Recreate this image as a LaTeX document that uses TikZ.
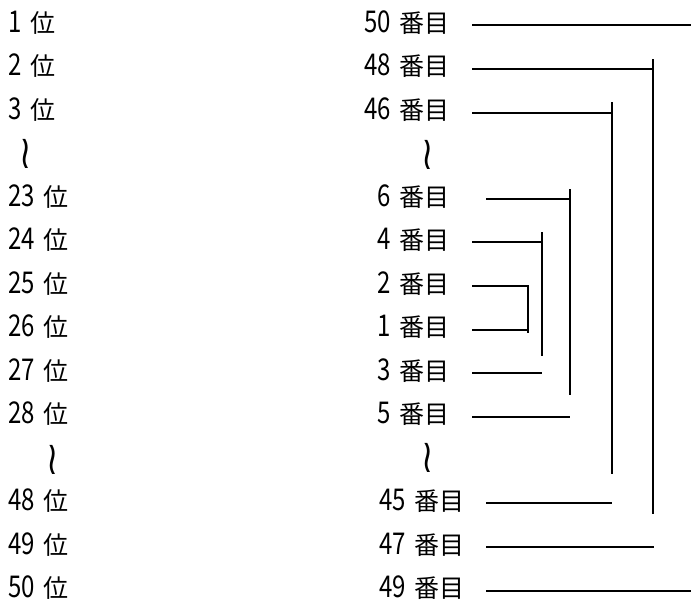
\documentclass[tikz,border=0pt]{standalone}
\usepackage{fontspec}
\setmainfont{Noto Sans CJK JP}
\newfontfamily\digfont[FakeStretch=0.8]{Noto Sans CJK JP}
\newfontfamily\wavefont{DejaVu Sans}
\newcommand\dg[1]{{\digfont\fontsize{30}{30}\selectfont #1}\hspace{9pt}}
\begin{document}
\begin{tikzpicture}[x=1pt,y=-1pt,
  lab/.style={inner sep=0pt,font=\fontsize{25}{25}\selectfont},
  leftlab/.style={lab,anchor=west},
  rightlab/.style={lab,anchor=east},
  wave/.style={inner sep=0pt,font=\wavefont\fontsize{30}{30}\selectfont},
  conn/.style={line width=2pt,line cap=butt}]
\useasboundingbox (0,0) rectangle (691,603);
% left column
\node[leftlab] (l1)  at (8,22.5)  {\dg{1}位};
\node[leftlab] (l2)  at (8,66)    {\dg{2}位};
\node[leftlab] (l3)  at (8,109.5) {\dg{3}位};
\node[wave]    (l4)  at (26,154)  {\scalebox{1.1}[1.55]{≀}};
\node[leftlab] (l5)  at (8,196.5) {\dg{23}位};
\node[leftlab] (l6)  at (8,240)   {\dg{24}位};
\node[leftlab] (l7)  at (8,283.5) {\dg{25}位};
\node[leftlab] (l8)  at (8,327)   {\dg{26}位};
\node[leftlab] (l9)  at (8,370.5) {\dg{27}位};
\node[leftlab] (l10) at (8,414)   {\dg{28}位};
\node[wave]    (l11) at (53,460)  {\scalebox{1.1}[1.55]{≀}};
\node[leftlab] (l12) at (8,501)   {\dg{48}位};
\node[leftlab] (l13) at (8,544.5) {\dg{49}位};
\node[leftlab] (l14) at (8,588)   {\dg{50}位};
% right column
\node[rightlab] (r1)  at (450,22.5)  {\dg{50}番目};
\node[rightlab] (r2)  at (450,66)    {\dg{48}番目};
\node[rightlab] (r3)  at (450,109.5) {\dg{46}番目};
\node[wave]     (r4)  at (428,155)   {\scalebox{1.1}[1.55]{≀}};
\node[rightlab] (r5)  at (450,196.5) {\dg{6}番目};
\node[rightlab] (r6)  at (450,240)   {\dg{4}番目};
\node[rightlab] (r7)  at (450,283.5) {\dg{2}番目};
\node[rightlab] (r8)  at (450,327)   {\dg{1}番目};
\node[rightlab] (r9)  at (450,370.5) {\dg{3}番目};
\node[rightlab] (r10) at (450,414)   {\dg{5}番目};
\node[wave]     (r11) at (428,458)   {\scalebox{1.1}[1.55]{≀}};
\node[rightlab] (r12) at (465,501)   {\dg{45}番目};
\node[rightlab] (r13) at (465,544.5) {\dg{47}番目};
\node[rightlab] (r14) at (465,588)   {\dg{49}番目};
% bracket coordinates
\coordinate (e50) at (691,25);
\coordinate (e48) at (654,69);
\coordinate (e46) at (613,113);
\coordinate (e6)  at (571,199);
\coordinate (e4)  at (543,242);
\coordinate (e2)  at (529,286);
\coordinate (e1)  at (529,330);
\coordinate (e3)  at (542,373);
\coordinate (e5)  at (570,417);
\coordinate (e45) at (612,503);
\coordinate (e47) at (654,547);
\coordinate (e49) at (691,591);
\coordinate (v48a) at (653,59);  \coordinate (v48b) at (653,514);
\coordinate (v46a) at (612,102); \coordinate (v46b) at (612,474);
\coordinate (v6a)  at (570,189); \coordinate (v6b)  at (570,395);
\coordinate (v4a)  at (542,232); \coordinate (v4b)  at (542,356);
\coordinate (v2a)  at (528,285); \coordinate (v2b)  at (528,333);
% horizontal connectors
\draw[conn] ([xshift=22pt]r1.east |- e50) -- (e50);
\draw[conn] ([xshift=22pt]r2.east |- e48) -- (e48);
\draw[conn] ([xshift=22pt]r3.east |- e46) -- (e46);
\draw[conn] ([xshift=36pt]r5.east |- e6) -- (e6);
\draw[conn] ([xshift=22pt]r6.east |- e4) -- (e4);
\draw[conn] ([xshift=22pt]r7.east |- e2) -- (e2);
\draw[conn] ([xshift=22pt]r8.east |- e1) -- (e1);
\draw[conn] ([xshift=22pt]r9.east |- e3) -- (e3);
\draw[conn] ([xshift=22pt]r10.east |- e5) -- (e5);
\draw[conn] ([xshift=21pt]r12.east |- e45) -- (e45);
\draw[conn] ([xshift=21pt]r13.east |- e47) -- (e47);
\draw[conn] ([xshift=21pt]r14.east |- e49) -- (e49);
% vertical bars
\draw[conn] (v48a) -- (v48b);
\draw[conn] (v46a) -- (v46b);
\draw[conn] (v6a) -- (v6b);
\draw[conn] (v4a) -- (v4b);
\draw[conn] (v2a) -- (v2b);
\end{tikzpicture}
\end{document}
